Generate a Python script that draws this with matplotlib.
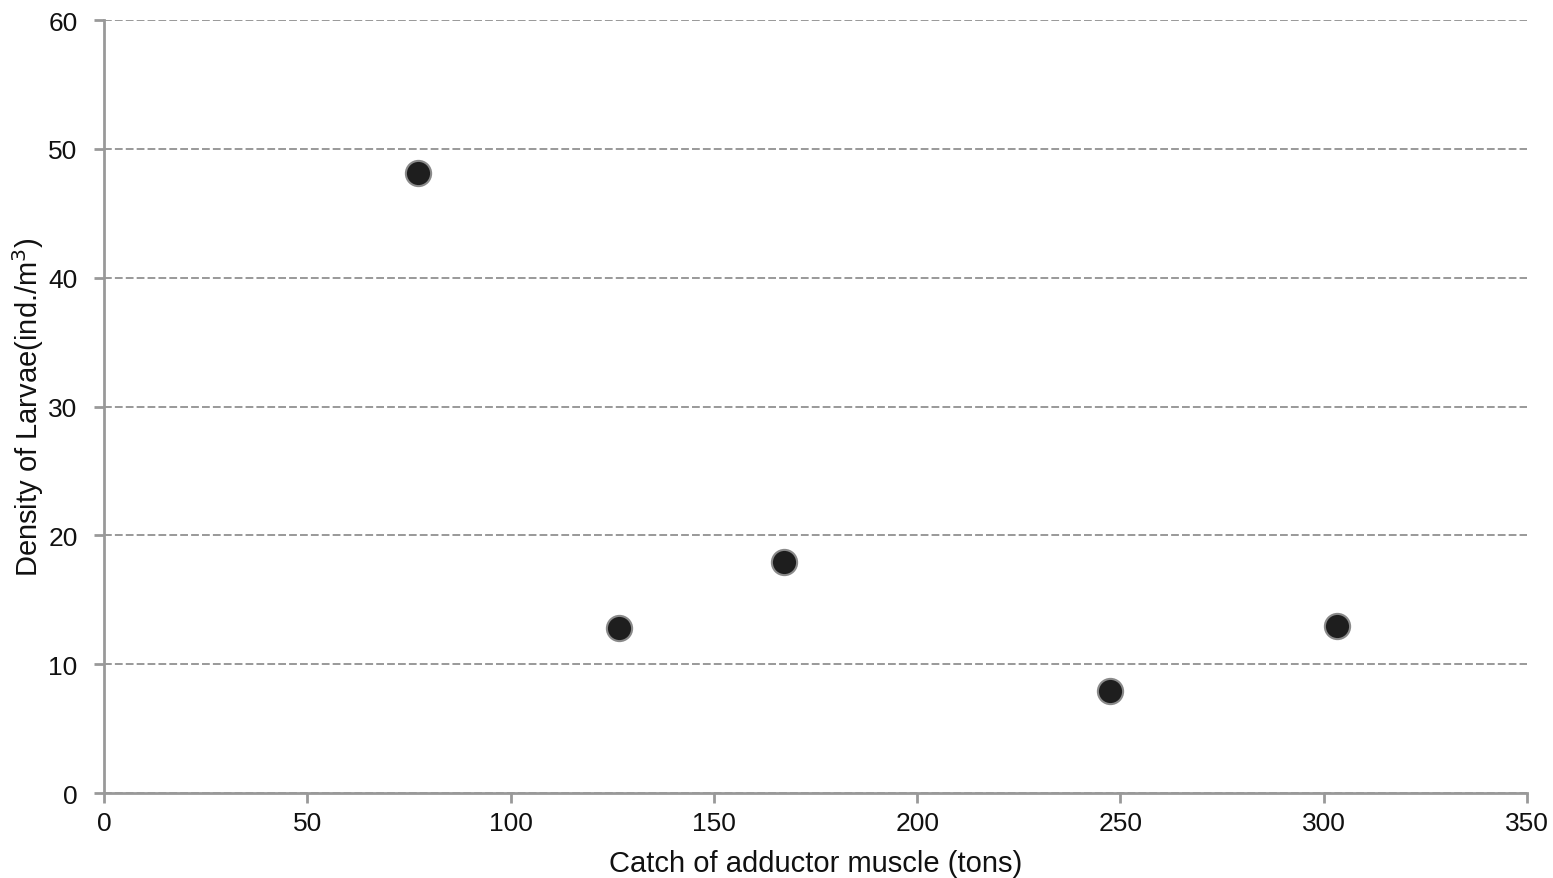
import matplotlib.pyplot as plt

plt.rcParams["font.family"] = ["Liberation Sans", "DejaVu Sans"]

# catch of adductor muscle (tons) vs larval density (ind./m3)
catch_tons = [77.2, 126.7, 167.2, 247.4, 303.3]
larvae_density = [48.1, 12.8, 17.9, 7.9, 13.0]

x_ticks = [0, 50, 100, 150, 200, 250, 300, 350]
y_ticks = [0, 10, 20, 30, 40, 50, 60]

axis_grey = "#999999"

fig = plt.figure(figsize=(15.53, 8.79), dpi=100)
ax = fig.add_axes([0.067, 0.0967, 0.9163, 0.8793])

ax.scatter(catch_tons, larvae_density, s=330, color="#1e1e1e",
           edgecolors="#8a8a8a", linewidths=1.5, zorder=3)

ax.set_xlim(0, 350)
ax.set_ylim(0, 60)
ax.set_xticks(x_ticks)
ax.set_yticks(y_ticks)

ax.yaxis.grid(True, linestyle=(0, (4, 1.6)), color=axis_grey, linewidth=1.4)
ax.set_axisbelow(True)

for side in ["top", "right"]:
    ax.spines[side].set_visible(False)
for side in ["left", "bottom"]:
    ax.spines[side].set_color(axis_grey)
    ax.spines[side].set_linewidth(2)

ax.tick_params(axis="both", colors=axis_grey, width=2, length=7,
               labelsize=19, labelcolor="#111111")
ax.tick_params(axis="y", pad=12)
ax.tick_params(axis="x", pad=6)

ax.set_xlabel("Catch of adductor muscle (tons)", fontsize=21, color="#111111",
              labelpad=10)
ax.set_ylabel("Density of Larvae(ind./m$^3$)", fontsize=21, color="#111111",
              labelpad=2)

fig.savefig("out.png", dpi=100)
